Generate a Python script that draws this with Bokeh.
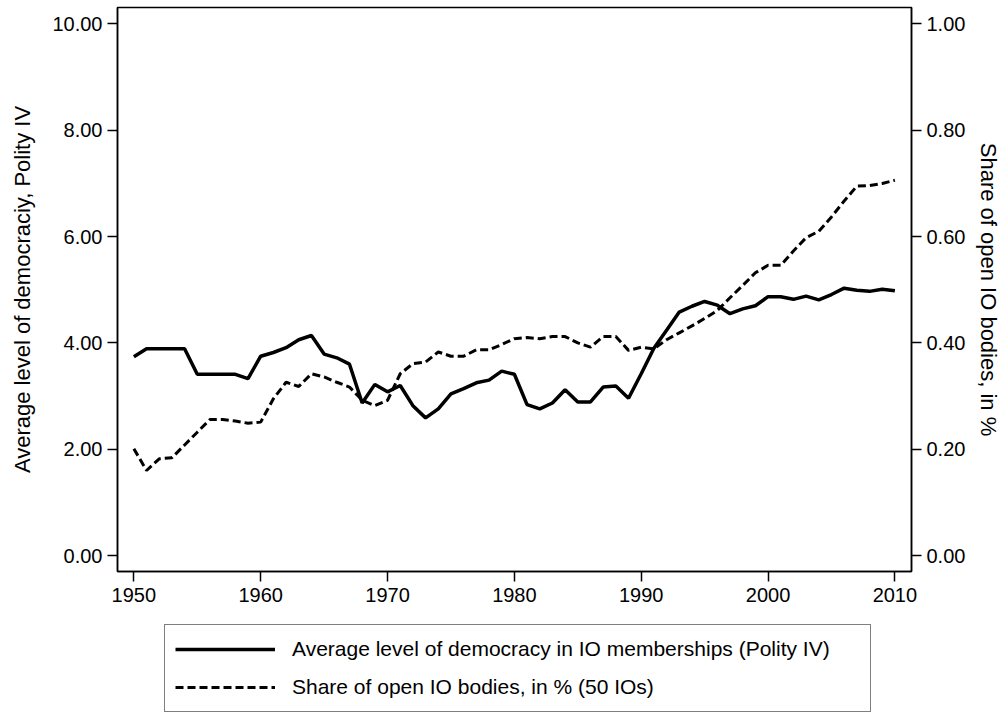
from bokeh.plotting import figure
from bokeh.layouts import column
from bokeh.models import Range1d, LinearAxis, FixedTicker, PrintfTickFormatter, Legend, LegendItem
from bokeh.embed import file_html
from bokeh.resources import INLINE

years = list(range(1950, 2011))

democracy = [
    3.74, 3.89, 3.89, 3.89, 3.89, 3.41, 3.41, 3.41, 3.41, 3.33,
    3.75, 3.82, 3.91, 4.06, 4.14, 3.79, 3.72, 3.60, 2.87, 3.22,
    3.08, 3.20, 2.82, 2.59, 2.76, 3.04, 3.14, 3.25, 3.30, 3.47,
    3.41, 2.84, 2.76, 2.87, 3.12, 2.89, 2.89, 3.17, 3.19, 2.96,
    3.42, 3.90, 4.24, 4.58, 4.69, 4.78, 4.71, 4.55, 4.64, 4.70,
    4.87, 4.87, 4.82, 4.88, 4.81, 4.91, 5.03, 4.99, 4.97, 5.01,
    4.98,
]

share_open = [
    0.201, 0.160, 0.182, 0.184, 0.208, 0.232, 0.256, 0.256, 0.253, 0.249,
    0.251, 0.295, 0.326, 0.318, 0.342, 0.336, 0.326, 0.317, 0.292, 0.282,
    0.292, 0.342, 0.361, 0.364, 0.383, 0.375, 0.375, 0.387, 0.387, 0.397,
    0.408, 0.410, 0.408, 0.412, 0.412, 0.400, 0.392, 0.412, 0.412, 0.386,
    0.392, 0.389, 0.406, 0.419, 0.432, 0.446, 0.461, 0.485, 0.508, 0.532,
    0.546, 0.546, 0.573, 0.598, 0.610, 0.637, 0.667, 0.695, 0.696, 0.700,
    0.706,
]

x_ticks = [1950, 1960, 1970, 1980, 1990, 2000, 2010]
left_ticks = [0, 2, 4, 6, 8, 10]
right_ticks = [0.0, 0.2, 0.4, 0.6, 0.8, 1.0]

left_title = "Average level of democraciy, Polity IV"
right_title = "Share of open IO bodies, in %"
label_solid = "Average level of democracy in IO memberships (Polity IV)"
label_dashed = "Share of open IO bodies, in % (50 IOs)"

FONT = "Liberation Sans"

p = figure(
    width=1004, height=613,
    x_range=Range1d(1948.71, 2011.31),
    y_range=Range1d(-0.30, 10.31),
    output_backend="svg", toolbar_location=None,
    min_border_left=117, min_border_right=87,
    min_border_top=7, min_border_bottom=42,
    background_fill_color="white", border_fill_color="white",
)
p.extra_y_ranges = {"share": Range1d(-0.030, 1.031)}

p.xgrid.visible = False
p.ygrid.visible = False
p.outline_line_color = "black"
p.outline_line_width = 1.5

def style_axis(ax):
    ax.major_label_text_font = FONT
    ax.major_label_text_font_size = "20px"
    ax.major_label_text_color = "black"
    ax.major_tick_out = 10
    ax.major_tick_in = 0
    ax.minor_tick_out = 0
    ax.minor_tick_in = 0
    ax.major_tick_line_color = "black"
    ax.major_tick_line_width = 1.5
    ax.axis_line_color = "black"
    ax.axis_line_width = 1.5
    ax.axis_label_text_font = FONT
    ax.axis_label_text_font_size = "22px"
    ax.axis_label_text_font_style = "normal"
    ax.axis_label_text_color = "black"

xa = p.xaxis[0]
style_axis(xa)
xa.ticker = FixedTicker(ticks=x_ticks)
xa.major_label_standoff = 6

ya = p.yaxis[0]
style_axis(ya)
ya.ticker = FixedTicker(ticks=left_ticks)
ya.formatter = PrintfTickFormatter(format="%.2f")
ya.axis_label = left_title
ya.axis_label_standoff = 14

ra = LinearAxis(y_range_name="share")
style_axis(ra)
ra.ticker = FixedTicker(ticks=right_ticks)
ra.formatter = PrintfTickFormatter(format="%.2f")
ra.axis_label = right_title
ra.axis_label_standoff = 8
p.add_layout(ra, "right")

p.line(years, democracy, line_color="black", line_width=3.5)
p.line(years, share_open, y_range_name="share", line_color="black",
       line_width=3, line_dash="8 4")

# Legend strip below the chart (its frame is aligned with the chart frame)
q = figure(
    width=1004, height=100,
    x_range=Range1d(0, 1), y_range=Range1d(0, 1),
    output_backend="svg", toolbar_location=None,
    x_axis_location=None, y_axis_location=None,
    min_border_left=117, min_border_right=87, min_border_top=0, min_border_bottom=0,
    background_fill_color="white", border_fill_color="white",
)
q.xgrid.visible = False
q.ygrid.visible = False
q.outline_line_color = None
# same series, outside this strip's visible range: only their legend glyphs show
k1 = q.line(years, democracy, line_color="black", line_width=3.5)
k2 = q.line(years, share_open, line_color="black", line_width=3, line_dash="8 4")

legend = Legend(
    items=[LegendItem(label=label_solid, renderers=[k1]),
           LegendItem(label=label_dashed, renderers=[k2])],
    location=(47, 1), orientation="vertical",
    label_text_font=FONT, label_text_font_size="21px", label_text_color="black",
    glyph_width=100, glyph_height=28, label_height=28, label_width=568,
    spacing=10, padding=10, label_standoff=17,
    border_line_color="black", border_line_width=1,
    background_fill_color="white", background_fill_alpha=1.0,
)
q.add_layout(legend, "center")

layout = column(p, q, spacing=0)
open("out.html", "w").write(file_html(layout, INLINE))
